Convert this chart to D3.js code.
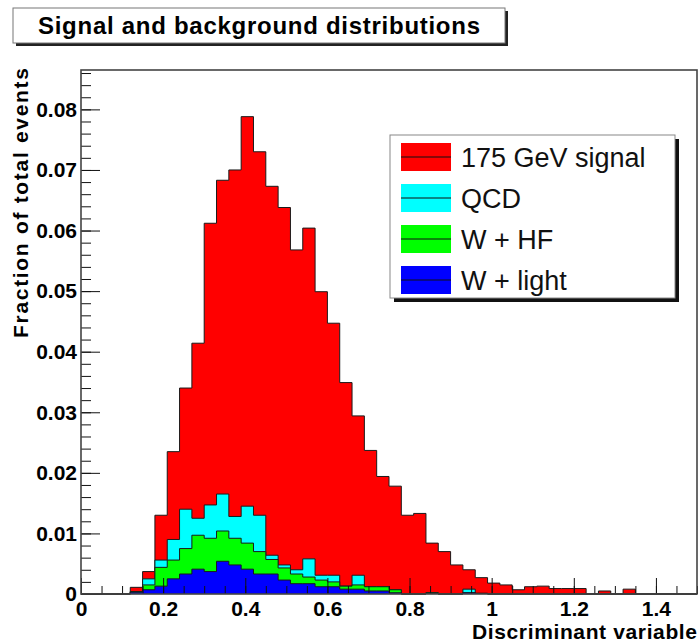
<!DOCTYPE html>
<html>
<head>
<meta charset="utf-8">
<script src="https://cdn.jsdelivr.net/npm/d3@7"></script>
<style>
  body { margin: 0; background: #fff; }
  svg { display: block; }
  text { font-family: "Liberation Sans", Arial, Helvetica, sans-serif; }
</style>
</head>
<body>
<svg id="chart" width="700" height="642"></svg>
<script>
// Histogram binning: 50 bins of width 0.03 from 0 to 1.5
const binLow = 0;
const binWidth = 0.03;
const nBins = 50;

// Per-bin fractions for each sample (stacked bottom to top)
const wLight = [0,0,0,0,0.0003,0.0007,0.0013,0.0025,0.0033,0.0041,0.0037,0.0054,0.0048,0.0041,0.0033,0.0033,0.0023,0.0017,0.0017,0.0012,
  0.0012,0.0008,0.0008,0.0005,0.0005,0.0002,0,0,0.0001,0,0,0.0002,0.0001,0,0,0,0,0,0,0,0,0,0,0,0,0,0,0,0,0];
const wHF = [0,0,0,0,0.0001,0.0008,0.0031,0.0031,0.0042,0.0056,0.0055,0.0050,0.0044,0.0043,0.0037,0.0024,0.0020,0.0016,0.0011,0.0011,
  0.0008,0.0005,0.0007,0.0007,0.0007,0.0005,0,0,0.0001,0,0,0,0,0,0,0,0,0,0,0,0,0,0,0,0,0,0,0,0,0];
const qcd = [0,0,0,0,0,0.0010,0.0012,0.0034,0.0065,0.0028,0.0055,0.0061,0.0036,0.0061,0.0060,0.0007,0.0005,0.0007,0.0030,0.0008,
  0.0011,0,0.0016,0,0,0,0,0,0,0,0,0.0006,0,0,0,0,0,0,0,0,0,0,0,0,0,0,0,0,0,0];
const signal = [0,0,0,0,0.0007,0.0012,0.0074,0.0145,0.0200,0.0289,0.0465,0.0518,0.0572,0.0643,0.0600,0.0609,0.0590,0.0528,0.0546,0.0468,
  0.0416,0.0336,0.0263,0.0225,0.0182,0.0171,0.0130,0.0133,0.0082,0.0070,0.0048,0.0032,0.0026,0.0018,0.0015,0.0007,0.0012,0.0013,0.0009,0.0009,
  0.0009,0,0.0005,0,0.0008,0,0,0,0,0];

const sampleKeys = ["wLight", "wHF", "qcd", "signal"];
const sampleLabels = { signal: "175 GeV signal", qcd: "QCD", wHF: "W + HF", wLight: "W + light" };
const sampleColors = { signal: "#ff0000", qcd: "#00ffff", wHF: "#00ff00", wLight: "#0000ff" };
const legendOrder = ["signal", "qcd", "wHF", "wLight"];

// Axis ticks and labels
const xMajorTicks = [0, 0.2, 0.4, 0.6, 0.8, 1, 1.2, 1.4];
const xTickLabels = ["0", "0.2", "0.4", "0.6", "0.8", "1", "1.2", "1.4"];
const yMajorTicks = [0, 0.01, 0.02, 0.03, 0.04, 0.05, 0.06, 0.07, 0.08];
const yTickLabels = ["0", "0.01", "0.02", "0.03", "0.04", "0.05", "0.06", "0.07", "0.08"];

const titleText = "Signal and background distributions";
const xTitle = "Discriminant variable";
const yTitle = "Fraction of total events";

const frame = { left: 81, right: 697, top: 70, bottom: 594 };

const svg = d3.select("#chart");
svg.append("rect").attr("width", 700).attr("height", 642).attr("fill", "#fff");

const x = d3.scaleLinear().domain([0, 1.5]).range([frame.left, frame.right]);
const y = d3.scaleLinear().domain([0, 0.0865]).range([frame.bottom, frame.top]);

// Build rows and stack the samples
const rows = d3.range(nBins).map(i => ({
  lo: binLow + i * binWidth,
  wLight: wLight[i], wHF: wHF[i], qcd: qcd[i], signal: signal[i]
}));
const stacked = d3.stack().keys(sampleKeys)(rows);

// Draw cumulative step histograms, outermost (total) first
const plot = svg.append("g");
stacked.slice().reverse().forEach(layer => {
  const key = layer.key;
  const pts = layer.map((d, i) => ({ x: rows[i].lo, top: d[1] }));
  pts.push({ x: binLow + nBins * binWidth, top: 0 });
  const area = d3.area()
    .curve(d3.curveStepAfter)
    .x(d => x(d.x)).y0(y(0)).y1(d => y(d.top));
  plot.append("path").attr("d", area(pts))
    .attr("fill", sampleColors[key]).attr("stroke", "none");
  const line = d3.line().curve(d3.curveStepAfter)
    .x(d => x(d.x)).y(d => y(d.top));
  const outline = [{ x: binLow, top: 0 }].concat(pts);
  plot.append("path").attr("d", line(outline))
    .attr("fill", "none").attr("stroke", "#1a1a1a").attr("stroke-width", 1);
});

// Axes with inward ticks
const xMinor = d3.range(0, 31).map(i => i * 0.05).filter(v => v <= 1.5);
const yMinor = d3.range(0, 44).map(i => i * 0.002).filter(v => v <= 0.0865);

const gxMinor = svg.append("g").attr("transform", `translate(0,${frame.bottom})`)
  .call(d3.axisBottom(x).tickValues(xMinor).tickSize(-8).tickFormat(""));
const gx = svg.append("g").attr("transform", `translate(0,${frame.bottom})`)
  .call(d3.axisBottom(x).tickValues(xMajorTicks).tickSize(-16).tickPadding(7)
    .tickFormat((d, i) => xTickLabels[i]));
const gyMinor = svg.append("g").attr("transform", `translate(${frame.left},0)`)
  .call(d3.axisLeft(y).tickValues(yMinor).tickSize(-10).tickFormat(""));
const gy = svg.append("g").attr("transform", `translate(${frame.left},0)`)
  .call(d3.axisLeft(y).tickValues(yMajorTicks).tickSize(-19).tickPadding(4)
    .tickFormat((d, i) => yTickLabels[i]));

[gxMinor, gx, gyMinor, gy].forEach(g => {
  g.select(".domain").remove();
  g.selectAll(".tick line").attr("stroke", "#111");
  g.selectAll("text").attr("fill", "#000").attr("font-size", 21)
    .attr("font-weight", "bold").attr("font-family", "'Liberation Sans', Arial, sans-serif");
});

// Frame
svg.append("rect")
  .attr("x", frame.left).attr("y", frame.top)
  .attr("width", frame.right - frame.left).attr("height", frame.bottom - frame.top)
  .attr("fill", "none").attr("stroke", "#444").attr("stroke-width", 1.6);

// Axis titles
svg.append("text")
  .attr("x", frame.right).attr("y", 639)
  .attr("text-anchor", "end").attr("font-size", 21).attr("font-weight", "bold")
  .attr("textLength", 225).attr("lengthAdjust", "spacing")
  .text(xTitle);
svg.append("text")
  .attr("transform", `translate(28,68) rotate(-90)`)
  .attr("text-anchor", "end").attr("font-size", 21).attr("font-weight", "bold")
  .attr("textLength", 270).attr("lengthAdjust", "spacing")
  .text(yTitle);

// Title box with shadow
const tb = { x: 13, y: 8, w: 492, h: 35 };
svg.append("rect").attr("x", tb.x + 3).attr("y", tb.y + 3).attr("width", tb.w).attr("height", tb.h).attr("fill", "#222");
svg.append("rect").attr("x", tb.x).attr("y", tb.y).attr("width", tb.w).attr("height", tb.h)
  .attr("fill", "#fff").attr("stroke", "#777").attr("stroke-width", 1);
svg.append("text")
  .attr("x", tb.x + tb.w / 2).attr("y", 34)
  .attr("text-anchor", "middle").attr("font-size", 24).attr("font-weight", "bold")
  .attr("textLength", 442).attr("lengthAdjust", "spacing")
  .text(titleText);

// Legend with shadow
const lg = { x: 390, y: 135, w: 285, h: 163 };
svg.append("rect").attr("x", lg.x + 4).attr("y", lg.y + 4).attr("width", lg.w).attr("height", lg.h).attr("fill", "#111");
svg.append("rect").attr("x", lg.x).attr("y", lg.y).attr("width", lg.w).attr("height", lg.h)
  .attr("fill", "#fff").attr("stroke", "#888").attr("stroke-width", 1);
const entryY = d3.scalePoint().domain(legendOrder).range([157, 280]);
legendOrder.forEach(key => {
  const cy = entryY(key);
  svg.append("rect").attr("x", 401).attr("y", cy - 14).attr("width", 50).attr("height", 28)
    .attr("fill", sampleColors[key]);
  svg.append("line").attr("x1", 401).attr("x2", 451).attr("y1", cy).attr("y2", cy)
    .attr("stroke", "#111").attr("stroke-width", 1.2);
  svg.append("text").attr("x", 461).attr("y", cy + 10)
    .attr("font-size", 27).attr("fill", "#111")
    .text(sampleLabels[key]);
});
</script>
</body>
</html>
